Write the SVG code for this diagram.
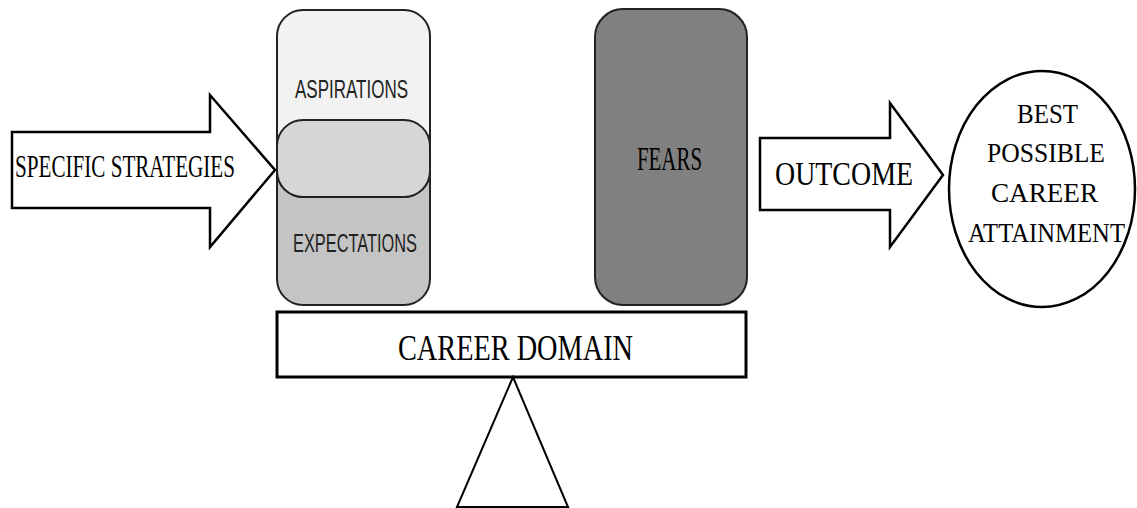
<svg xmlns="http://www.w3.org/2000/svg" width="1137" height="508" viewBox="0 0 1137 508">
<style>
.ln{stroke:#000;stroke-width:2.5;stroke-linejoin:miter}
.box{stroke:#222;stroke-width:2}
.serif{font-family:"Liberation Serif","Times New Roman",serif;fill:#000}
.sans{font-family:"Liberation Sans",Arial,sans-serif;fill:#222}
</style>
<rect width="1137" height="508" fill="#fff"/>
<g id="connectors">
<polygon id="arrow-strategies" class="ln" fill="#fff" points="12,132 210,132 210,95 275,170 210,247 210,208 12,208"/>
<polygon id="arrow-outcome" class="ln" fill="#fff" points="760,138 890,138 890,103 943,175 890,247 890,210 760,210"/>
</g>
<g id="strategies-label">
<text class="serif" x="15" y="177" font-size="32" textLength="220" lengthAdjust="spacingAndGlyphs">SPECIFIC STRATEGIES</text>
</g>
<g id="outcome-label">
<text class="serif" x="775" y="185" font-size="33" textLength="138" lengthAdjust="spacingAndGlyphs">OUTCOME</text>
</g>
<g id="aspirations-expectations">
<rect class="box" x="277" y="120" width="153" height="185" rx="26" fill="#c4c4c4"/>
<rect class="box" x="277" y="10" width="153" height="187" rx="26" fill="#f2f2f2"/>
<path class="box" fill="#d6d6d6" d="M303,120 H404 A26,26 0 0 1 430,146 V171 A26,26 0 0 1 404,197 H303 A26,26 0 0 1 277,171 V146 A26,26 0 0 1 303,120 Z"/>
<text class="sans" x="295" y="98" font-size="25" textLength="113" lengthAdjust="spacingAndGlyphs">ASPIRATIONS</text>
<text class="sans" x="293" y="252" font-size="25" textLength="124" lengthAdjust="spacingAndGlyphs">EXPECTATIONS</text>
</g>
<g id="fears">
<rect class="box" x="595" y="9" width="152" height="296" rx="28" fill="#808080"/>
<text class="serif" x="637" y="170" font-size="33" textLength="65" lengthAdjust="spacingAndGlyphs">FEARS</text>
</g>
<g id="career-domain">
<rect x="277" y="312" width="469" height="65" fill="#fff" stroke="#000" stroke-width="3"/>
<text class="serif" x="398" y="360" font-size="36" textLength="235" lengthAdjust="spacingAndGlyphs">CAREER DOMAIN</text>
</g>
<g id="fulcrum">
<polygon points="513,377 457,507 568,507" fill="#fff" stroke="#000" stroke-width="2"/>
</g>
<g id="best-career">
<ellipse cx="1042" cy="189" rx="93" ry="118" fill="#fff" stroke="#000" stroke-width="2.5"/>
<text class="serif" x="1017" y="123" font-size="28" textLength="61" lengthAdjust="spacingAndGlyphs">BEST</text>
<text class="serif" x="987" y="162" font-size="28" textLength="118" lengthAdjust="spacingAndGlyphs">POSSIBLE</text>
<text class="serif" x="991" y="202" font-size="28" textLength="107" lengthAdjust="spacingAndGlyphs">CAREER</text>
<text class="serif" x="968" y="242" font-size="28" textLength="157" lengthAdjust="spacingAndGlyphs">ATTAINMENT</text>
</g>
</svg>
